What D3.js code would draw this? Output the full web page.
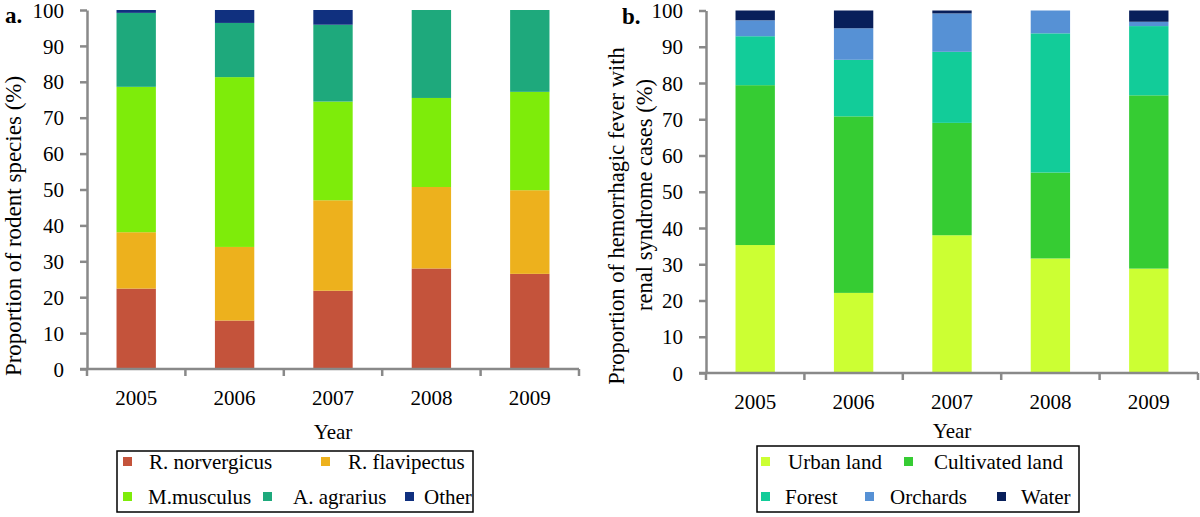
<!DOCTYPE html>
<html><head><meta charset="utf-8">
<script src="https://cdn.jsdelivr.net/npm/d3@7"></script>
<style>body{margin:0;background:#fff}svg{display:block}</style>
</head><body>
<svg id="c" width="1200" height="517"></svg>
<script>
const years = ["2005","2006","2007","2008","2009"];
const yTicks = [0,10,20,30,40,50,60,70,80,90,100];

// Panel a: rodent species (%)
const rodentSeries = ["R. norvergicus","R. flavipectus","M.musculus","A. agrarius","Other"];
const rNorvergicus = [22.4, 13.5, 21.8, 28.0, 26.5];
const rFlavipectus = [15.7, 20.5, 25.2, 22.7, 23.3];
const mMusculus    = [40.5, 47.3, 27.5, 24.8, 27.4];
const aAgrarius    = [20.6, 15.1, 21.4, 24.5, 22.8];
const otherRodent  = [0.8, 3.6, 4.1, 0.0, 0.0];
const rodentColors = ["#C4533B","#EDB11D","#7EEC0A","#1EA97C","#10307F"];

// Panel b: HFRS cases by land use (%)
const landSeries = ["Urban land","Cultivated land","Forest","Orchards","Water"];
const urbanLand      = [35.3, 22.1, 38.0, 31.6, 28.8];
const cultivatedLand = [44.1, 48.7, 31.0, 23.7, 47.8];
const forestLand     = [13.5, 15.6, 19.6, 38.4, 19.1];
const orchardsLand   = [4.4, 8.7, 10.6, 6.3, 1.2];
const waterLand      = [2.7, 4.9, 0.8, 0.0, 3.1];
const landColors = ["#CCFF33","#36CC33","#12CC99","#5691D5","#081F5A"];

const FONT = "'Liberation Serif', 'Times New Roman', Times, serif";
const svg = d3.select("#c");
const AX = "#898989";

function txt(sel, size) {
  return sel.style("font-family", FONT).style("font-size", size + "px").attr("fill", "#000");
}

function panel(o) {
  const g = svg.append("g");
  const x = d3.scaleBand().domain(years).range([o.x0, o.x1]).paddingInner(0.6).paddingOuter(0.3);
  const y = d3.scaleLinear().domain([0,100]).range([o.yb, o.yt]);
  const rows = years.map((yr,i) => {
    const r = {year: yr};
    o.series.forEach((s,k) => r[s] = o.values[k][i]);
    return r;
  });
  const stack = d3.stack().keys(o.series)(rows);
  stack.forEach((layer,k) => {
    g.append("g").attr("fill", o.colors[k]).selectAll("rect").data(layer).join("rect")
      .attr("x", d => x(d.data.year))
      .attr("width", x.bandwidth())
      .attr("y", d => y(Math.min(100,d[1])))
      .attr("height", d => Math.max(0, y(d[0]) - y(Math.min(100,d[1]))));
  });
  // y axis
  const ya = g.append("g").attr("transform", `translate(${o.x0},0)`)
    .call(d3.axisLeft(y).tickValues(yTicks).tickSize(7).tickSizeOuter(0).tickPadding(16));
  ya.select(".domain").attr("stroke", AX).attr("stroke-width", 2.5);
  ya.selectAll(".tick line").attr("stroke", AX).attr("stroke-width", 2.5);
  txt(ya.selectAll(".tick text"), 21).attr("dy", "0.34em");
  // x axis labels
  const xa = g.append("g").attr("transform", `translate(0,${o.yb})`)
    .call(d3.axisBottom(x).tickSize(0).tickPadding(21));
  xa.select(".domain").remove();
  txt(xa.selectAll(".tick text"), 21);
  g.append("line").attr("x1", o.x0 - 7).attr("x2", o.x1).attr("y1", o.yb).attr("y2", o.yb)
    .attr("stroke", AX).attr("stroke-width", 2.5);
  const b0 = o.x0, bw = (o.x1 - o.x0) / years.length;
  g.selectAll("line.xt").data(d3.range(years.length+1)).join("line").attr("class","xt")
    .attr("x1", i => b0 + i*bw).attr("x2", i => b0 + i*bw)
    .attr("y1", o.yb).attr("y2", o.yb + 7).attr("stroke", AX).attr("stroke-width", 2.5);
  // panel letter
  txt(g.append("text").attr("x", o.letterX).attr("y", o.yt + 13), 23)
    .style("font-weight", "bold").text(o.letter);
  // y title
  const yt = txt(g.append("text").attr("transform", `translate(${o.titleX},${o.titleY}) rotate(-90)`)
    .attr("text-anchor", "middle"), o.titleSize);
  o.yTitle.forEach((line, i) => yt.append("tspan").attr("x", o.lineShift[i]).attr("dy", i === 0 ? 0 : o.lineGap).text(line));
  // x title
  txt(g.append("text").attr("x", (o.x0 + o.x1)/2).attr("y", o.yearY).attr("text-anchor", "middle"), 21).text("Year");
  // legend
  g.append("rect").attr("x", o.leg.x).attr("y", o.leg.y).attr("width", o.leg.w).attr("height", o.leg.h)
    .attr("fill", "none").attr("stroke", "#000").attr("stroke-width", 1.5);
  o.series.forEach((s,k) => {
    const p = o.leg.items[k];
    g.append("rect").attr("x", p[0]).attr("y", p[1] - 5).attr("width", 9).attr("height", 9).attr("fill", o.colors[k]);
    txt(g.append("text").attr("x", p[2]).attr("y", p[1] + 7), 21).text(s);
  });
}

panel({
  x0: 87, x1: 579, yt: 10, yb: 369,
  series: rodentSeries,
  values: [rNorvergicus, rFlavipectus, mMusculus, aAgrarius, otherRodent],
  colors: rodentColors,
  letter: "a.", letterX: 5,
  yTitle: ["Proportion of rodent species (%)"], titleX: 21, titleY: 226, titleSize: 23,
  lineShift: [0], lineGap: 0,
  yearY: 439,
  leg: {x: 117, y: 451, w: 356, h: 61,
        items: [[123,462,149],[321,462,348],[123,497,148],[263,497,293],[405,497,424]]}
});

panel({
  x0: 706, x1: 1198, yt: 10.5, yb: 373,
  series: landSeries,
  values: [urbanLand, cultivatedLand, forestLand, orchardsLand, waterLand],
  colors: landColors,
  letter: "b.", letterX: 622,
  yTitle: ["Proportion of hemorrhagic fever with", "renal syndrome cases (%)"], titleX: 624, titleY: 216, titleSize: 22.5,
  lineShift: [0, 21], lineGap: 28,
  yearY: 438,
  leg: {x: 757, y: 446, w: 322, h: 66,
        items: [[761,462,788],[904,462,934],[761,497,785],[865,497,890],[997,497,1021]]}
});
</script>
</body></html>
